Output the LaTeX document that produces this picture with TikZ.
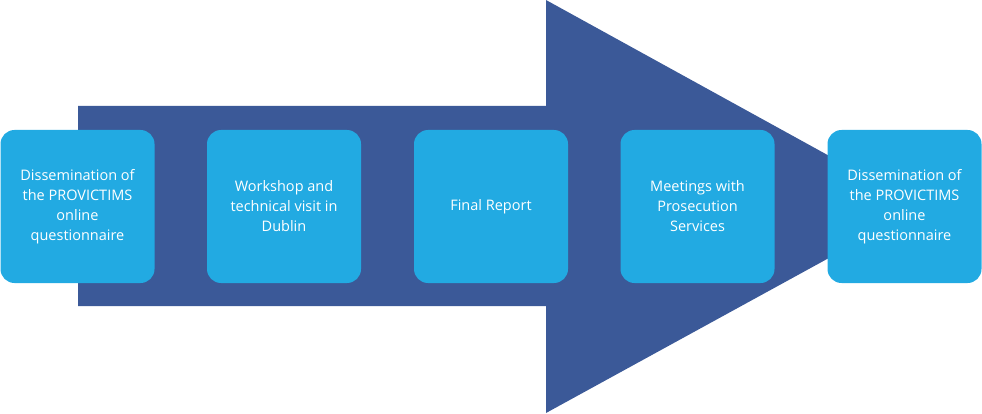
\documentclass[tikz,border=0pt]{standalone}
\usepackage{fontspec}
\setmainfont{Open Sans}
\definecolor{arrowblue}{RGB}{59,89,152}
\definecolor{boxblue}{RGB}{34,170,226}
\begin{document}
\begin{tikzpicture}[x=1pt,y=-1pt,
  box/.style={fill=boxblue,rounded corners=14pt,minimum width=154pt,minimum height=153pt,
    align=center,text=white,font=\fontsize{14.5pt}{20pt}\selectfont,inner sep=0pt}]
\useasboundingbox (0,0) rectangle (982,414);
\fill[arrowblue] (78,106) -- (546,106) -- (546,0) -- (922,207) -- (546,413) -- (546,306) -- (78,306) -- cycle;
\node[box] (b1) at (77.5,206.5) {Dissemination of\\the PROVICTIMS\\online\\questionnaire};
\node[box] (b2) at (284,206.5) {Workshop and\\technical visit in\\Dublin};
\node[box] (b3) at (491,206.5) {Final Report};
\node[box] (b4) at (697.5,206.5) {Meetings with\\Prosecution\\Services};
\node[box] (b5) at (904.5,206.5) {Dissemination of\\the PROVICTIMS\\online\\questionnaire};
\end{tikzpicture}
\end{document}
